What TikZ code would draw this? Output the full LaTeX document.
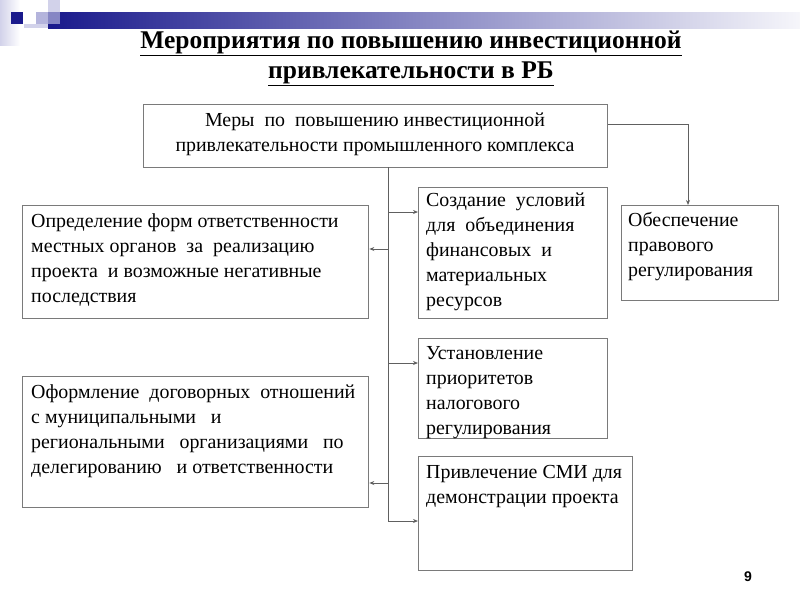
\documentclass[tikz,border=0pt]{standalone}
\usepackage{fontspec}
\setmainfont{Liberation Serif}
\setsansfont{Liberation Sans}
\usetikzlibrary{arrows.meta}
\definecolor{boxgray}{HTML}{7A7A7A}
\definecolor{linegray}{HTML}{606060}
\definecolor{navy}{HTML}{1A1A8C}
\definecolor{lav}{HTML}{B4B4DC}
\definecolor{lav2}{HTML}{D2D2EA}
\begin{document}
\begin{tikzpicture}[x=1pt,y=-1pt,
  box/.style={draw=boxgray, line width=1.3pt, inner sep=0pt, anchor=north west},
  txt/.style={anchor=north west, align=left, inner sep=0pt, font=\fontsize{19.9}{25}\selectfont},
  ttl/.style={anchor=base, inner sep=0pt, font=\fontsize{25.5}{30}\selectfont\bfseries},
  conn/.style={draw=linegray, line width=0.9pt},
  arr/.style={conn, -{Stealth[length=5pt,width=4pt]}}]
\useasboundingbox (0,0) rectangle (800,600);
% decoration
\shade[left color=lav2, right color=white] (0,0) rectangle (20,45);
\shade[left color=navy, middle color=navy!55!white, right color=navy!4!white] (48,12) rectangle (800,28);
\fill[lav2] (24,24) rectangle (48,28);
\fill[navy] (11,12) rectangle (23,24);
\fill[lav] (36,12) rectangle (48,24);
\fill[lav2] (48,0) rectangle (60,12);
\fill[lav!70!navy] (48,12) rectangle (60,24);
% title
\node[ttl] (t1) at (411,48.5) {\underline{Мероприятия по повышению инвестиционной}};
\node[ttl] (t2) at (411,78) {\underline{привлекательности в РБ}};
% boxes
\node[box, minimum width=464pt, minimum height=63pt] (top) at (143,104) {};
\node[box, minimum width=346pt, minimum height=113pt] (l1) at (22,205) {};
\node[box, minimum width=189pt, minimum height=131pt] (m1) at (418,187) {};
\node[box, minimum width=157pt, minimum height=95pt] (r) at (621,205) {};
\node[box, minimum width=189pt, minimum height=100pt] (m2) at (418,338) {};
\node[box, minimum width=346pt, minimum height=131pt] (l2) at (22,376) {};
\node[box, minimum width=214pt, minimum height=114pt] (m3) at (418,456) {};
% texts
\node[txt, align=center, anchor=north] (toptxt) at (375,108.5) {\strut Меры~ по~ повышению инвестиционной\\привлекательности промышленного комплекса};
\node[txt] (l1txt) at (31,209.5) {\strut Определение форм ответственности\\местных органов~ за~ реализацию\\проекта~ и возможные негативные\\последствия};
\node[txt] (m1txt) at (426,188.5) {\strut Создание~ условий\\для~ объединения\\финансовых~ и\\материальных\\ресурсов};
\node[txt] (rtxt) at (628,208.5) {\strut Обеспечение\\правового\\регулирования};
\node[txt] (m2txt) at (426,341.5) {\strut Установление\\приоритетов\\налогового\\регулирования};
\node[txt] (l2txt) at (31,380.5) {\strut Оформление~ договорных~ отношений\\с муниципальными~~ и\\региональными~~ организациями~~ по\\делегированию~~ и ответственности};
\node[txt] (m3txt) at (426,460.5) {\strut Привлечение СМИ для\\демонстрации проекта};
% page number
\node[anchor=base, inner sep=0pt, font=\sffamily\bfseries\fontsize{14}{16}\selectfont] (pg) at (748,581) {9};
% connectors
\coordinate (tr) at (388,167);
\coordinate (tb) at (388,521);
\draw[conn] (tr) -- (tb);
\draw[arr] (tr |- 0,212) -- (m1.west |- 0,212);
\draw[arr] (tr |- 0,249) -- (l1.east |- 0,249);
\draw[arr] (tr |- 0,363) -- (m2.west |- 0,363);
\draw[arr] (tr |- 0,483) -- (l2.east |- 0,483);
\draw[arr] (tb) -- (m3.west |- tb);
\coordinate (rc) at (688,124);
\draw[arr] (top.east |- rc) -- (rc) -- (r.north -| rc);
\end{tikzpicture}
\end{document}
